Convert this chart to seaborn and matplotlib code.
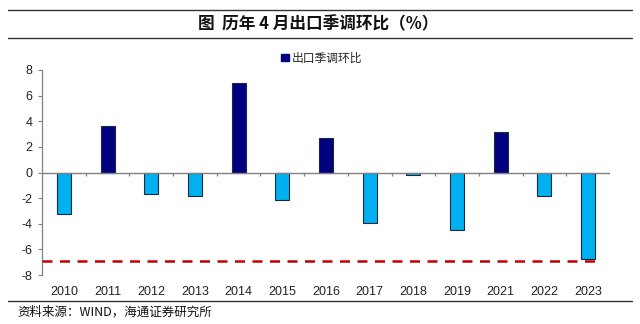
import matplotlib
matplotlib.use("Agg")
import matplotlib.pyplot as plt
import seaborn as sns
import pandas as pd
import numpy as np
from matplotlib.patches import Patch

years = ["2010", "2011", "2012", "2013", "2014", "2015", "2016", "2017", "2018", "2019", "2021", "2022", "2023"]
values = [-3.25, 3.6, -1.7, -1.8, 7.0, -2.15, 2.7, -3.98, -0.23, -4.45, 3.2, -1.87, -6.72]
ref_level = -6.87
series_name = "出口季调环比"
title_text = "图  历年 4 月出口季调环比（%）"
source_text = "资料来源：WIND，海通证券研究所"
y_ticks = [-8, -6, -4, -2, 0, 2, 4, 6, 8]

POS = "#000080"
NEG = "#00B0F0"

sns.set_theme(style="white")
plt.rcParams['font.family'] = ['Liberation Sans', 'Noto Sans CJK SC', 'DejaVu Sans']

df = pd.DataFrame({"year": years, "value": values})
df["sign"] = np.where(df["value"] >= 0, "pos", "neg")

fig = plt.figure(figsize=(6.4, 3.24), dpi=100)
ax = fig.add_axes([42/640, 1-275/324, (610-42)/640, (275-70)/324])

sns.barplot(data=df, x="year", y="value", hue="sign", palette={"pos": POS, "neg": NEG},
            dodge=False, width=0.32, saturation=1, edgecolor="#1a2a3a", linewidth=0.8,
            legend=False, ax=ax)

ax.set_ylim(-8, 8)
ax.set_xlim(-0.5, len(years) - 0.5)
ax.set_yticks(y_ticks)
ax.set_yticklabels([str(t) for t in y_ticks], fontsize=9, color="#222222")
ax.set_xticks(range(len(years)))
ax.set_xticklabels(years, fontsize=9, color="#222222")
ax.set_xlabel("")
ax.set_ylabel("")
ax.tick_params(axis="x", length=0, pad=8)
ax.tick_params(axis="y", length=3, width=0.8, color="#808080", left=True, direction="out", pad=4)

for s in ["top", "right", "bottom"]:
    ax.spines[s].set_visible(False)
ax.spines["left"].set_color("#808080")
ax.spines["left"].set_linewidth(0.9)

ax.axhline(0, color="#808080", lw=1.0, zorder=1)
bounds = np.arange(len(years)) + 0.5
ax.vlines(bounds, -0.25, 0, color="#808080", lw=0.9, zorder=1)

ax.hlines(ref_level, -0.5, len(years) - 1 + 0.17, colors="#C00000", linestyles=(0, (4, 3)), lw=1.8, zorder=3)

leg = ax.legend(handles=[Patch(facecolor=POS, edgecolor=POS, label=series_name)],
                loc="center", bbox_to_anchor=(322/640, 1-58/324), bbox_transform=fig.transFigure,
                frameon=False, handlelength=0.6, handleheight=0.6, handletextpad=0.3,
                prop={'family': ['Noto Sans CJK SC', 'DejaVu Sans'], 'size': 8.5})

fig.add_artist(plt.Line2D([8/640, 632/640], [1-10/324, 1-10/324], color="#333333", lw=1.0, transform=fig.transFigure))
fig.add_artist(plt.Line2D([8/640, 632/640], [1-38/324, 1-38/324], color="#333333", lw=1.0, transform=fig.transFigure))
fig.add_artist(plt.Line2D([8/640, 632/640], [1-301/324, 1-301/324], color="#333333", lw=1.0, transform=fig.transFigure))

fig.text(318/640, 1-24/324, title_text, ha="center", va="center", fontsize=12, fontweight="bold",
         family=['Noto Sans CJK SC', 'DejaVu Sans'], color="#111111")
fig.text(17/640, 1-312/324, source_text, ha="left", va="center", fontsize=9,
         family=['Noto Sans CJK SC', 'DejaVu Sans'], color="#111111")

fig.savefig("out.png", dpi=100, facecolor="white")
